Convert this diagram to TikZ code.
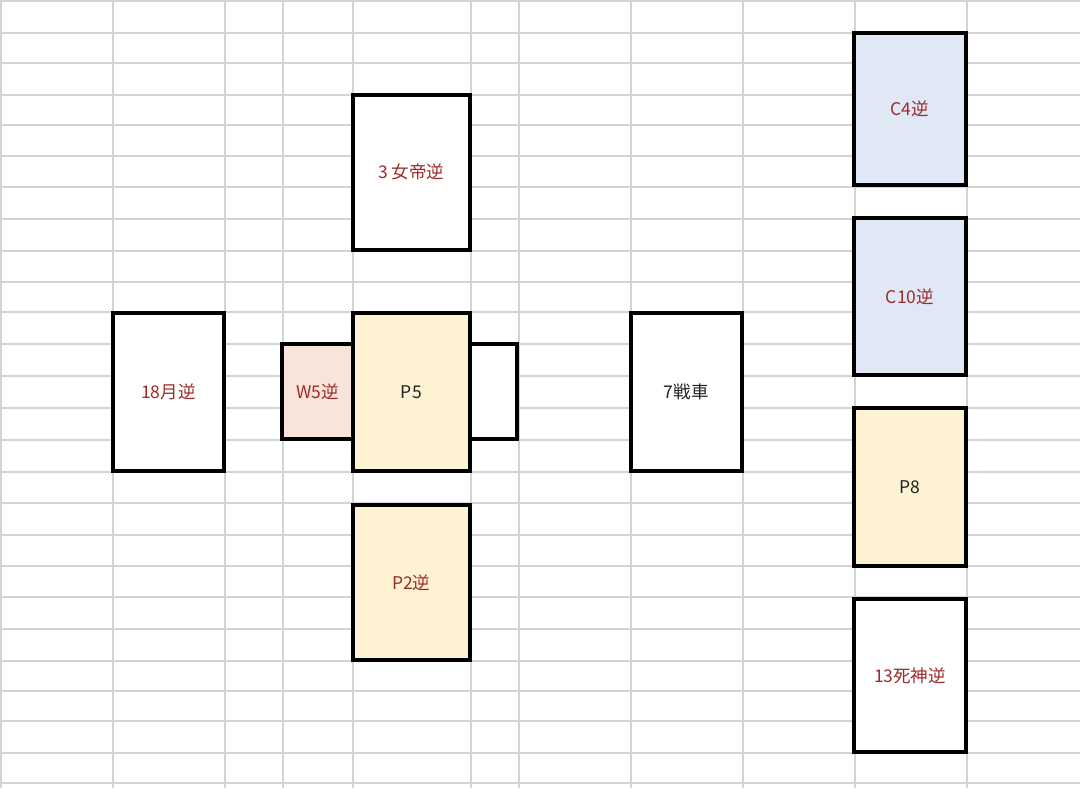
\documentclass[tikz,border=0pt]{standalone}
\usepackage{fontspec}
\newfontfamily\cjk{Noto Sans CJK JP}
\definecolor{gridc}{HTML}{D3D3D3}
\definecolor{redtxt}{HTML}{9E2B2B}
\definecolor{blktxt}{HTML}{222222}
\definecolor{yelfill}{HTML}{FDF2D2}
\definecolor{peachfill}{HTML}{F8E4D9}
\definecolor{bluefill}{HTML}{DFE8F4}
\tikzset{
  card/.style={draw=black, line width=4pt, inner sep=0pt, outer sep=0pt, fill=white,
    font=\cjk\fontsize{17.5}{20}\selectfont, text=redtxt},
  gridline/.style={draw=gridc, line width=2pt},
}
\begin{document}
\begin{tikzpicture}[x=1pt,y=-1pt]
\useasboundingbox (0,0) rectangle (1080,788);
% grid
\foreach \gx in {1,113,225,283,352.7,470.7,519,630.7,742.7,855,967}
  \draw[gridline] (\gx,0) -- (\gx,788);
\foreach \gy in {0.7,32.7,62.7,94.7,124.7,155.5,186.7,218.7,250.7,281.5,312.3,343.5,375.5,407.5,440,472,503,535,566,597,628.7,660.7,690.7,720.7,752.7,782.7}
  \draw[gridline] (0,\gy) -- (1080,\gy);
% cards
\node[card, minimum width=117.3pt, minimum height=155.3pt] (q3) at (411.35,172.35) {3 女帝逆};
\node[card, minimum width=111.3pt, minimum height=158.6pt] (m18) at (168.35,392) {18月逆};
\node[card, fill=peachfill, minimum width=70.7pt, minimum height=95.3pt] (w5) at (317.35,391.65) {W5逆};
\node[card, minimum width=47.3pt, minimum height=95.3pt] (rb) at (493.65,391.65) {};
\node[card, fill=yelfill, text=blktxt, minimum width=117.3pt, minimum height=158.6pt] (p5) at (411.35,392) {P5};
\node[card, fill=yelfill, minimum width=117.3pt, minimum height=155.3pt] (p2) at (411.35,582.35) {P2逆};
\node[card, text=blktxt, minimum width=111.3pt, minimum height=158.6pt] (c7) at (686.35,392) {7戦車};
\node[card, fill=bluefill, minimum width=112pt, minimum height=152.6pt] (c4) at (910,109) {C4逆};
\node[card, fill=bluefill, minimum width=112pt, minimum height=157.3pt] (c10) at (910,296.65) {C10逆};
\node[card, fill=yelfill, text=blktxt, minimum width=112pt, minimum height=157.4pt] (p8) at (910,487) {P8};
\node[card, minimum width=112pt, minimum height=153.3pt] (d13) at (910,675.35) {13死神逆};
\end{tikzpicture}
\end{document}
